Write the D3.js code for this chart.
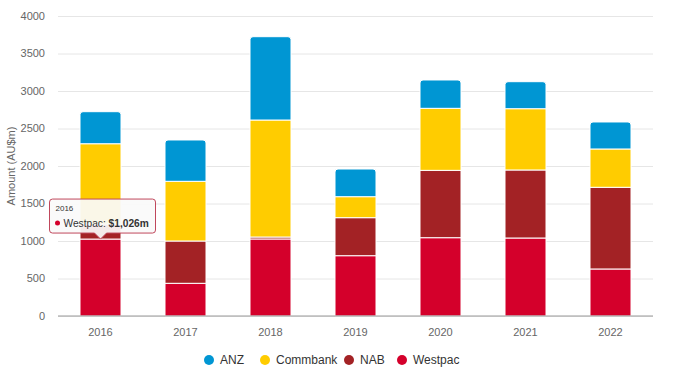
<!DOCTYPE html>
<html lang="en">
<head>
<meta charset="UTF-8">
<script src="https://cdn.jsdelivr.net/npm/d3@7"></script>
<style>
  body { margin:0; background:#fff; }
  svg { font-family: "Liberation Sans", Arial, sans-serif; }
  .grid line { stroke:#e6e6e6; }
  .grid .domain { display:none; }
</style>
</head>
<body>
<svg width="680" height="376"></svg>
<script>
// data
var years = ['2016','2017','2018','2019','2020','2021','2022'];
var westpac  = [1026, 436, 1027, 804, 1044, 1040, 627];
var nab      = [200, 564, 26, 507, 898, 907, 1089];
var commbank = [1071, 796, 1560, 280, 827, 817, 511];
var anz      = [427, 551, 1111, 369, 378, 360, 360];
var yTicks = [0, 500, 1000, 1500, 2000, 2500, 3000, 3500, 4000];

var keys = ['Westpac', 'NAB', 'Commbank', 'ANZ'];
var legendKeys = ['ANZ', 'Commbank', 'NAB', 'Westpac'];
var colors = {ANZ:'#0096d3', Commbank:'#ffcc00', NAB:'#a32225', Westpac:'#d4002b'};

var rows = years.map(function(y, i){
    return {year:y, Westpac:westpac[i], NAB:nab[i], Commbank:commbank[i], ANZ:anz[i]};
});

var svg = d3.select('svg'),
    margin = {top:16, right:27, bottom:60, left:58},
    width = 680 - margin.left - margin.right,
    height = 376 - margin.top - margin.bottom,
    g = svg.append('g').attr('transform', 'translate(' + margin.left + ',' + margin.top + ')');

var x = d3.scaleBand().domain(years).range([0, width]).paddingInner(0).paddingOuter(0);
var y = d3.scaleLinear().domain([0, 4000]).range([height, 0]);
var barW = 41;

// gridlines
g.append('g').attr('class', 'grid')
    .call(d3.axisLeft(y).tickValues(yTicks).tickSize(-width).tickFormat(''));

// y labels
g.append('g')
    .selectAll('text')
    .data(yTicks)
    .enter().append('text')
    .attr('x', -13)
    .attr('y', function(d){ return y(d); })
    .attr('dy', '.35em')
    .attr('text-anchor', 'end')
    .attr('fill', '#666')
    .attr('font-size', 11)
    .text(function(d){ return d; });

// y title
svg.append('text')
    .attr('transform', 'translate(15,' + (margin.top + height / 2) + ') rotate(-90)')
    .attr('text-anchor', 'middle')
    .attr('fill', '#666')
    .attr('font-size', 11)
    .text('Amount (AU$m)');

// stacked bars
var stack = d3.stack().keys(keys)(rows);
var topIdx = keys.length - 1;

function roundTop(x0, y0, w, h, r){
    r = Math.min(r, h);
    return 'M' + x0 + ',' + (y0 + h) +
        'V' + (y0 + r) + 'Q' + x0 + ',' + y0 + ' ' + (x0 + r) + ',' + y0 +
        'H' + (x0 + w - r) + 'Q' + (x0 + w) + ',' + y0 + ' ' + (x0 + w) + ',' + (y0 + r) +
        'V' + (y0 + h) + 'Z';
}

g.append('g')
    .selectAll('g')
    .data(stack)
    .enter().append('g')
    .attr('fill', function(d){ return colors[d.key]; })
    .each(function(series, si){
        d3.select(this).selectAll('path')
            .data(series)
            .enter().append('path')
            .attr('stroke', '#fff')
            .attr('stroke-width', 1)
            .attr('d', function(d){
                var x0 = x(d.data.year) + (x.bandwidth() - barW) / 2;
                var y0 = y(d[1]), h = y(d[0]) - y(d[1]);
                return roundTop(x0, y0, barW, h, si === topIdx ? 3 : 0);
            });
    });

// x axis
var xAxis = g.append('g')
    .attr('transform', 'translate(0,' + height + ')');
xAxis.append('line')
    .attr('x1', 0).attr('x2', width)
    .attr('stroke', '#999').attr('stroke-width', 1);
xAxis.selectAll('text')
    .data(years)
    .enter().append('text')
    .attr('x', function(d){ return x(d) + x.bandwidth() / 2; })
    .attr('y', 20)
    .attr('text-anchor', 'middle')
    .attr('fill', '#666')
    .attr('font-size', 11)
    .text(function(d){ return d; });

// legend
var legendX = [209, 265, 349, 402];
var legend = svg.append('g')
    .selectAll('g')
    .data(legendKeys)
    .enter().append('g')
    .attr('transform', function(d, i){ return 'translate(' + legendX[i] + ',360)'; });
legend.append('circle')
    .attr('r', 5)
    .attr('fill', function(d){ return colors[d]; });
legend.append('text')
    .attr('x', 11)
    .attr('dy', '.35em')
    .attr('fill', '#333')
    .attr('font-size', 12)
    .text(function(d){ return d; });

// tooltip on 2016 Westpac
var tipX = margin.left + x('2016') + x.bandwidth() / 2;
var tipY = margin.top + y(westpac[0]);
var tip = svg.append('g').attr('transform', 'translate(' + tipX + ',' + tipY + ')');
var bx = -51, bw = 106, by = -40, bh = 34;
tip.append('path')
    .attr('d', 'M' + (bx + 3) + ',' + by + 'H' + (bx + bw - 3) + 'Q' + (bx + bw) + ',' + by + ' ' + (bx + bw) + ',' + (by + 3) +
        'V' + (by + bh - 3) + 'Q' + (bx + bw) + ',' + (by + bh) + ' ' + (bx + bw - 3) + ',' + (by + bh) +
        'H6L0,' + (by + bh + 6) + 'L-6,' + (by + bh) +
        'H' + (bx + 3) + 'Q' + bx + ',' + (by + bh) + ' ' + bx + ',' + (by + bh - 3) +
        'V' + (by + 3) + 'Q' + bx + ',' + by + ' ' + (bx + 3) + ',' + by + 'Z')
    .attr('fill', 'rgba(250,250,250,0.93)')
    .attr('stroke', '#c0475c')
    .attr('stroke-width', 1);
tip.append('text')
    .attr('x', bx + 6).attr('y', by + 12)
    .attr('font-size', 8).attr('fill', '#333')
    .text(years[0]);
tip.append('circle')
    .attr('cx', bx + 8).attr('cy', by + 24).attr('r', 2.5)
    .attr('fill', colors.Westpac);
var t = tip.append('text')
    .attr('x', bx + 14).attr('y', by + 28)
    .attr('font-size', 10.2).attr('fill', '#333');
t.append('tspan').text('Westpac: ');
t.append('tspan').attr('font-weight', 'bold').text('$' + d3.format(',')(westpac[0]) + 'm');
</script>
</body>
</html>
